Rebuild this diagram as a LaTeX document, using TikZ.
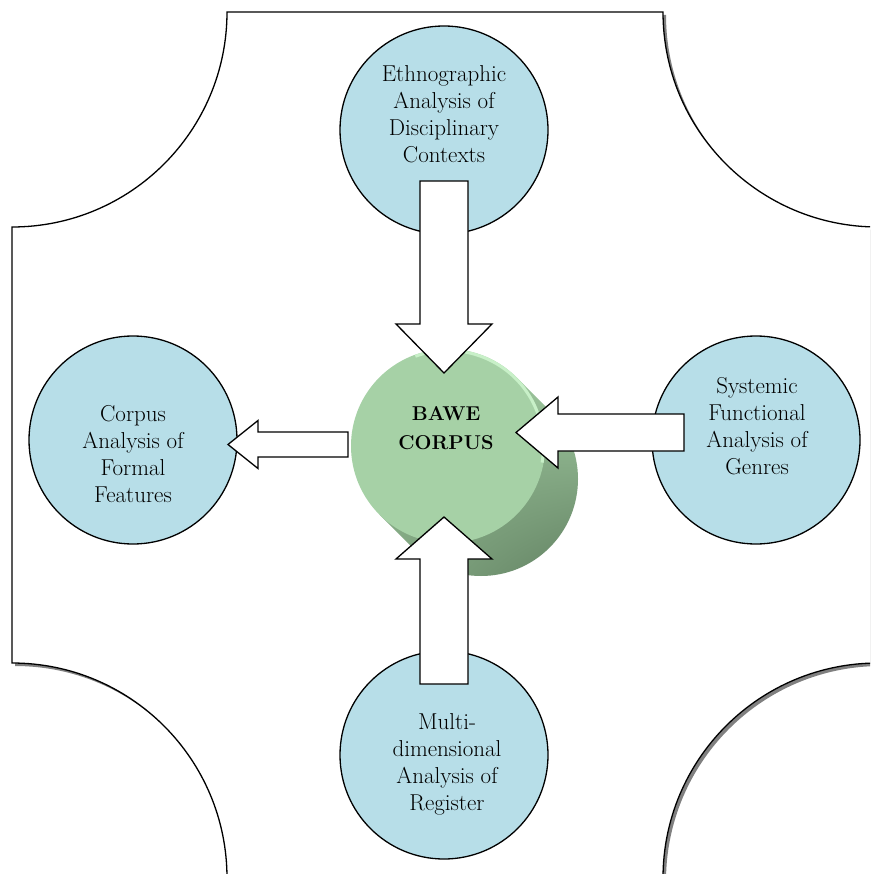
\documentclass[tikz,border=0pt]{standalone}
\usepackage{fontspec}
\usepackage{tikz}
\usetikzlibrary{calc, positioning, shadings}

\definecolor{discblue}{HTML}{B7DEE8}
\definecolor{facegreen}{HTML}{A6D1A6}
\definecolor{rimgreen}{HTML}{C8F0C8}
\definecolor{sidedark}{HTML}{5E7C5E}
\definecolor{sidemid}{HTML}{86AC86}
\definecolor{sidelight}{HTML}{A3CDA3}

\tikzset{
  bluedisc/.style={circle, draw, line width=1.3pt, fill=discblue, minimum size=208pt, inner sep=0pt},
  disctext/.style={align=center, font=\fontsize{23}{27}\selectfont},
  arrowbox/.style={draw, line width=1.3pt, fill=white, line join=miter},
}

% outline of the background plaque (square with cut corners)
\newcommand{\plaquepath}{(227,12) -- (663,12) arc[start angle=180, end angle=90, radius=215]
  -- (878,663) arc[start angle=270, end angle=180, radius=215]
  -- (227,878) arc[start angle=0, end angle=-90, radius=215]
  -- (12,227) arc[start angle=90, end angle=0, radius=215] -- cycle}

% block arrow: tail, tip, half shaft, half head, head length
\newcommand{\fatarrow}[5]{%
  \coordinate (fa-base) at ($(#2)!#5!(#1)$);
  \draw[arrowbox] ($(#1)!#3!90:(#2)$) -- ($(fa-base)!#3!90:(#2)$) -- ($(fa-base)!#4!90:(#2)$)
    -- (#2) -- ($(fa-base)!#4!-90:(#2)$) -- ($(fa-base)!#3!-90:(#2)$) -- ($(#1)!#3!-90:(#2)$) -- cycle;}

\begin{document}
\begin{tikzpicture}[x=1pt, y=-1pt]
    \useasboundingbox (0,0) rectangle (870,874);
    \clip (0,0) rectangle (870,874);

    \fill[gray, shift={(3,3)}] \plaquepath;
    \draw[line width=1.3pt, fill=white] \plaquepath;

    % the four analyses
    \node[bluedisc, label={[disctext, yshift=15.5pt]center:{Ethnographic\\Analysis of\\Disciplinary\\Contexts}}] (ethno) at (444,130) {};
    \node[bluedisc, label={[disctext, yshift=-14pt]center:{Corpus\\Analysis of\\Formal\\Features}}] (formal) at (133,440) {};
    \node[bluedisc, label={[disctext, xshift=1pt, yshift=13.5pt]center:{Systemic\\Functional\\Analysis of\\Genres}}] (sfl) at (756,440) {};
    \node[bluedisc, label={[disctext, xshift=3pt, yshift=-9pt]center:{Multi-\\dimensional\\Analysis of\\Register}}] (mda) at (444,755) {};

    % the corpus in the middle
    \coordinate (bawe-back) at (481,479);
    \node[circle, minimum size=194pt, inner sep=0pt] (bawe) at (448,446) {};
    \shade[upper right=sidelight, lower right=sidedark, lower left=sidemid, upper left=sidemid]
        ($(bawe)+(-45:97)$) -- ($(bawe-back)+(-45:97)$) arc[start angle=-45, end angle=135, radius=97]
        -- ($(bawe)+(135:97)$) -- cycle;
    \fill[facegreen] (bawe) circle (97);
    \draw[rimgreen, line width=3pt] ($(bawe)+(-110:95.5)$) arc[start angle=-110, end angle=10, radius=95.5];
    \node[align=center, font=\bfseries\fontsize{20}{29}\selectfont] (bawe-text) at (446,428) {BAWE\\CORPUS};

    % arrows
    \coordinate (ethno-tail) at (444,181);
    \coordinate (ethno-tip) at (444,373);
    \coordinate (formal-tail) at (348,444.5);
    \coordinate (formal-tip) at (228,444.5);
    \coordinate (sfl-tail) at (684,432.5);
    \coordinate (sfl-tip) at (516,432.5);
    \coordinate (mda-tail) at (444,684);
    \coordinate (mda-tip) at (444,517);

    \fatarrow{ethno-tail}{ethno-tip}{24pt}{48pt}{49pt}
    \fatarrow{formal-tail}{formal-tip}{12.5pt}{24pt}{30pt}
    \fatarrow{sfl-tail}{sfl-tip}{18.5pt}{35.5pt}{42pt}
    \fatarrow{mda-tail}{mda-tip}{24pt}{48pt}{42pt}
\end{tikzpicture}
\end{document}
